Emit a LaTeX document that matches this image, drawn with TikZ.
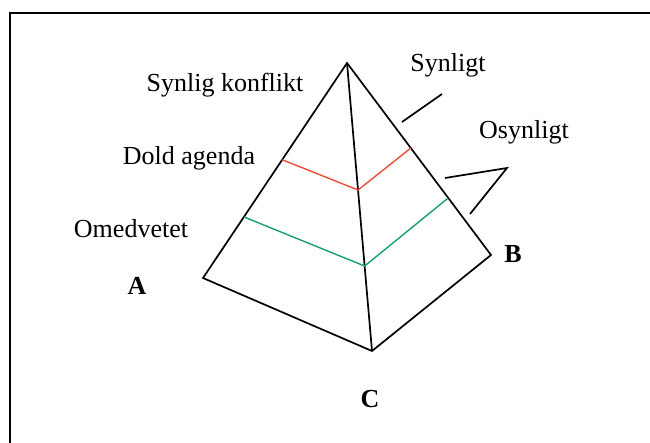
\documentclass[tikz,border=0pt]{standalone}
\usepackage{fontspec}
\setmainfont{Liberation Serif}
\usetikzlibrary{calc}
\definecolor{layerred}{RGB}{238, 76, 56}
\definecolor{layergreen}{RGB}{22, 158, 118}

\begin{document}
\begin{tikzpicture}[x=1pt, y=-1pt,
        lbl/.style={font=\fontsize{26}{30}\selectfont, anchor=base, inner sep=0pt},
        corner/.style={font=\fontsize{26}{30}\selectfont\bfseries, anchor=base, inner sep=0pt},
        edge/.style={line width=1.7pt, black, line join=miter},
        layer/.style={line width=1.4pt},
        pointer/.style={line width=1.7pt, black}
      ]
        \useasboundingbox (0,0) rectangle (650,443);
        \clip (0,0) rectangle (650,443);
        \draw[line width=2.6pt] (10,13) rectangle (680,470);

        % pyramid corners
        \coordinate (P) at (347, 63);
        \coordinate (A) at (203, 278);
        \coordinate (B) at (491, 255);
        \coordinate (C) at (372, 351);

        \draw[edge] (A) -- (P) -- (B) -- (C) -- cycle;
        \draw[edge] (P) -- (C);

        % layers
        \coordinate (redA) at ($(P)!0.45!(A)$);
        \coordinate (redC) at ($(P)!0.441!(C)$);
        \coordinate (redB) at ($(P)!0.443!(B)$);
        \coordinate (grnA) at ($(P)!0.716!(A)$);
        \coordinate (grnC) at ($(P)!0.705!(C)$);
        \coordinate (grnB) at ($(P)!0.703!(B)$);
        \draw[layer, layerred] (redA) -- (redC) -- (redB);
        \draw[layer, layergreen] (grnA) -- (grnC) -- (grnB);

        % pointers
        \coordinate (synA) at (402, 122);
        \coordinate (synB) at (442, 94);
        \draw[pointer] (synA) -- (synB);
        \coordinate (osyA) at (445, 178);
        \coordinate (osyM) at (507, 168);
        \coordinate (osyB) at (470, 214);
        \draw[pointer] (osyA) -- (osyM) -- (osyB);

        % labels
        \node[lbl] (konflikt) at (225, 92) {Synlig konflikt};
        \node[lbl] (synligt) at (448, 72) {Synligt};
        \node[lbl] (osynligt) at (524, 139) {Osynligt};
        \node[lbl] (dold) at (189, 165) {Dold agenda};
        \node[lbl] (omedvetet) at (131, 238) {Omedvetet};
        \node[corner] (labA) at (137, 295) {A};
        \node[corner] (labB) at (513, 263) {B};
        \node[corner] (labC) at (370, 407) {C};
      \end{tikzpicture}
\end{document}
